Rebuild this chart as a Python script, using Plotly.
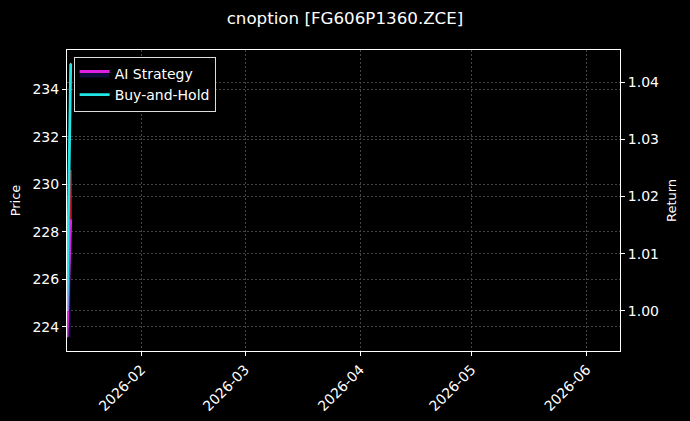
import plotly.graph_objects as go

# values
dates = ["2026-01-12", "2026-01-13"]
price = [223.6, 235.1]
ai_strategy = [0.9954, 1.016]
buy_hold = [1.0, 1.0432]
red_marks = [228.5, 230.6]

month_ticks = ["2026-02-01", "2026-03-01", "2026-04-01", "2026-05-01", "2026-06-01"]
month_labels = ["2026-02", "2026-03", "2026-04", "2026-05", "2026-06"]
price_ticks = [224, 226, 228, 230, 232, 234]
return_ticks = [1.00, 1.01, 1.02, 1.03, 1.04]

fig = go.Figure()

fig.add_trace(go.Scatter(x=dates, y=price, mode="lines", line=dict(color="#e6e6f0", width=1),
                         showlegend=False, yaxis="y"))
fig.add_trace(go.Scatter(x=[dates[1], dates[1]], y=red_marks, mode="lines",
                         line=dict(color="#c0182a", width=2), showlegend=False, yaxis="y"))
fig.add_trace(go.Scatter(x=dates, y=[0.9954, 0.9954], mode="lines", line=dict(width=0),
                         showlegend=False, yaxis="y2", hoverinfo="skip"))
fig.add_trace(go.Scatter(x=dates, y=ai_strategy, mode="lines", fill="tonexty",
                         fillcolor="rgba(40,40,160,0.35)", line=dict(color="#e020e0", width=2.8),
                         name="AI Strategy", yaxis="y2"))
fig.add_trace(go.Scatter(x=dates, y=buy_hold, mode="lines", line=dict(color="#22e6e6", width=2.8),
                         name="Buy-and-Hold", yaxis="y2"))

axis_common = dict(showline=True, linecolor="white", linewidth=1, automargin=False,
                   ticks="outside", tickcolor="white", ticklen=4, color="white",
                   tickfont=dict(size=14),
                   gridcolor="#444444", griddash="2px,2px", gridwidth=0.6, zeroline=False)

fig.update_layout(
    width=690, height=421,
    paper_bgcolor="black", plot_bgcolor="black",
    font=dict(family="DejaVu Sans", size=14, color="white"),
    margin=dict(l=67, r=70, t=50, b=70),
    title=dict(text="cnoption [FG606P1360.ZCE]", x=0.5, xanchor="center", y=0.957,
               yanchor="middle", font=dict(size=16.7, color="white")),
    xaxis=dict(range=["2026-01-12", "2026-06-10"], tickvals=month_ticks, ticktext=month_labels,
               tickangle=-45, mirror=True, **axis_common),
    yaxis=dict(range=[222.99, 235.64], tickvals=price_ticks,
               title=dict(text="Price", standoff=8, font=dict(size=13)), **axis_common),
    yaxis2=dict(range=[0.99301, 1.04559], tickvals=return_ticks, tickformat=".2f",
                overlaying="y", side="right",
                title=dict(text="Return", standoff=8, font=dict(size=13)), **axis_common),
    legend=dict(x=0.012, y=0.977, xanchor="left", yanchor="top", bgcolor="black",
                bordercolor="#dddddd", borderwidth=1, traceorder="normal",
                font=dict(size=14, color="white")),
)

fig.write_html("out.html", config={"displayModeBar": False},
               post_script="document.body.style.margin='0';document.body.style.background='black';")
